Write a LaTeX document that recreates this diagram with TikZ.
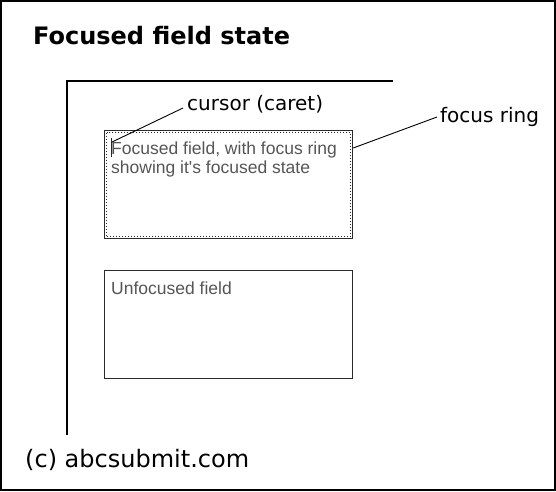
\documentclass[tikz,border=0pt]{standalone}
\usepackage{fontspec}
\usepackage{tikz}
\usepackage{xcolor}
\usetikzlibrary{positioning}
\setmainfont{DejaVu Sans}
\newfontfamily\fieldfont{Liberation Sans}
\definecolor{fieldgray}{HTML}{555555}
\definecolor{boxgray}{HTML}{2A2A2A}
\tikzset{
  field/.style={draw=boxgray,line width=1.2pt,minimum width=248pt,minimum height=108pt,
    inner sep=0pt,anchor=north west},
  fieldtext/.style={font=\fieldfont\fontsize{17.5}{19.5}\selectfont,text=fieldgray,
    align=left,anchor=north west,inner sep=0pt},
  callout/.style={font=\fontsize{20}{24}\selectfont,inner sep=0pt,anchor=base west},
  leader/.style={line width=0.9pt},
}

\begin{document}
\begin{tikzpicture}[x=1pt,y=-1pt]
  \useasboundingbox (0,0) rectangle (556,491);
  \draw[line width=2pt] (1,1) rectangle (555,490);
  \node[anchor=base west,font=\bfseries\fontsize{24}{28}\selectfont,inner sep=0pt] (T) at (33,44) {Focused field state};
  % axes of the page
  \coordinate (O) at (67,81);
  \coordinate (X) at (393,81);
  \coordinate (Y) at (67,435);
  \draw[line width=1.2pt] (Y) -- (O) -- (X);
  % focused field with its ring
  \node[field] (F) at (104,130) {};
  \draw[boxgray,line width=1pt,dotted] ([shift={(2.5,2.5)}]F.north west) rectangle ([shift={(-2.5,-2.5)}]F.south east);
  \node[fieldtext] (FT) at (111,141.5) {Focused field, with focus ring\\showing it's focused state};
  \coordinate (C1) at (111.5,138);
  \coordinate (C2) at (111.5,157);
  \draw[line width=1.2pt,black!85] (C1) -- (C2);
  % unfocused field
  \node[field] (U) at (104,270) {};
  \node[fieldtext] (UT) at (111,281.5) {Unfocused field};
  % callouts
  \node[callout] (CL) at (187,110) {cursor (caret)};
  \node[callout] (RL) at (440,122) {focus ring};
  \coordinate (CA) at (112,142);
  \coordinate (RA) at ([shift={(0,18)}]F.north east);
  \draw[leader] (CA) -- ([shift={(-4,-2)}]CL.base west);
  \draw[leader] (RA) -- ([shift={(-3,-5)}]RL.base west);
  \node[anchor=base west,font=\fontsize{24}{28}\selectfont,inner sep=0pt] (CP) at (25,467) {(c) abcsubmit.com};
\end{tikzpicture}
\end{document}
